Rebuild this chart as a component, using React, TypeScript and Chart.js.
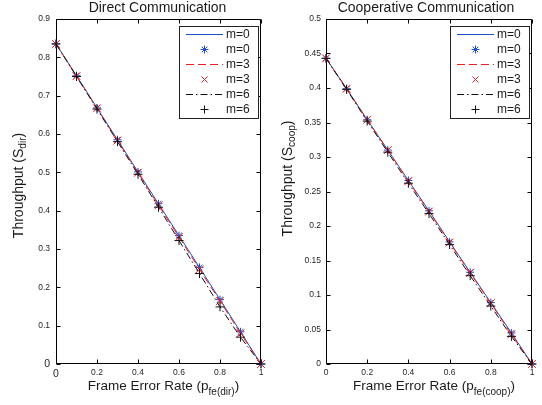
import React, { useEffect, useRef } from "react";
import { Chart, registerables } from "chart.js";

Chart.register(...registerables);

// ---------- data ----------
const frameErrorRate = [0, 0.1, 0.2, 0.3, 0.4, 0.5, 0.6, 0.7, 0.8, 0.9, 1];
const seriesLabels = ["m=0", "m=3", "m=6"];

const directM0 = [0.835, 0.752, 0.668, 0.585, 0.501, 0.418, 0.335, 0.252, 0.168, 0.084, 0];
const directM3 = [0.835, 0.751, 0.667, 0.583, 0.499, 0.414, 0.331, 0.247, 0.164, 0.080, 0];
const directM6 = [0.835, 0.750, 0.665, 0.580, 0.495, 0.409, 0.322, 0.236, 0.149, 0.070, 0];

const coopM0 = [0.443, 0.399, 0.354, 0.310, 0.266, 0.222, 0.177, 0.133, 0.089, 0.045, 0];
const coopM3 = [0.443, 0.399, 0.354, 0.310, 0.265, 0.221, 0.176, 0.132, 0.088, 0.043, 0];
const coopM6 = [0.443, 0.398, 0.352, 0.307, 0.262, 0.218, 0.173, 0.128, 0.084, 0.040, 0];

const xTickStep = 0.2;
const directYMax = 0.9;
const directYStep = 0.1;
const coopYMax = 0.5;
const coopYStep = 0.05;

const directTitle = "Direct Communication";
const coopTitle = "Cooperative Communication";

// ---------- styles ----------
const FONT = '"Liberation Sans", Arial, sans-serif';
const STYLES = [
  { color: "#1f4fc4", dash: [] as number[], point: "star", radius: 4 },
  { color: "#ee2020", dash: [8, 4], point: "crossRot", radius: 5.5 },
  { color: "#111111", dash: [7, 3, 1.5, 3], point: "cross", radius: 4.5 },
];

type PanelCfg = {
  title: string;
  sub: string;
  series: number[][];
  yMax: number;
  yStep: number;
  axLeft: number;
  axRight: number;
  yLabPad: number;
  bigZero: boolean;
  titleX: number;
  xTitleX: number;
  yTitleX: number;
  yTitleY: number;
};

const W = 271;
const H = 405;
const AX_TOP = 19;
const AX_BOTTOM = 364;

function drawRich(
  ctx: CanvasRenderingContext2D,
  parts: { t: string; sub?: boolean }[],
  x: number,
  y: number,
  mainSize: number,
  subSize: number,
  subShift: number
) {
  const widths: number[] = [];
  let total = 0;
  for (const p of parts) {
    ctx.font = `${p.sub ? subSize : mainSize}px ${FONT}`;
    const w = ctx.measureText(p.t).width;
    widths.push(w);
    total += w;
  }
  let cx = x - total / 2;
  ctx.textAlign = "left";
  ctx.textBaseline = "alphabetic";
  parts.forEach((p, i) => {
    ctx.font = `${p.sub ? subSize : mainSize}px ${FONT}`;
    ctx.fillText(p.t, cx, p.sub ? y + subShift : y);
    cx += widths[i];
  });
}

function drawMarker(ctx: CanvasRenderingContext2D, style: string, x: number, y: number, r: number) {
  ctx.beginPath();
  const d = r * Math.SQRT1_2;
  if (style === "cross" || style === "star") {
    ctx.moveTo(x - r, y);
    ctx.lineTo(x + r, y);
    ctx.moveTo(x, y - r);
    ctx.lineTo(x, y + r);
  }
  if (style === "crossRot" || style === "star") {
    ctx.moveTo(x - d, y - d);
    ctx.lineTo(x + d, y + d);
    ctx.moveTo(x - d, y + d);
    ctx.lineTo(x + d, y - d);
  }
  ctx.stroke();
}

function makeDecor(p: PanelCfg) {
  return {
    id: "decor",
    beforeDatasetsDraw(chart: any) {
      const { ctx, chartArea: a, scales } = chart;
      const xs = scales.x;
      const ys = scales.y;
      const L = Math.round(a.left) + 0.5;
      const R = Math.round(a.right) - 0.5;
      const T = Math.round(a.top) + 0.5;
      const B = Math.round(a.bottom) - 0.5;
      ctx.save();
      ctx.strokeStyle = "#000";
      ctx.lineWidth = 1;
      ctx.beginPath();
      ctx.rect(L, T, R - L, B - T);
      ctx.stroke();
      const tl = 4;
      ctx.beginPath();
      for (const t of xs.ticks) {
        const px = Math.round(xs.getPixelForValue(t.value)) + 0.5;
        ctx.moveTo(px, B);
        ctx.lineTo(px, B - tl);
        ctx.moveTo(px, T);
        ctx.lineTo(px, T + tl);
      }
      for (const t of ys.ticks) {
        const py = Math.round(ys.getPixelForValue(t.value)) + 0.5;
        ctx.moveTo(L, py);
        ctx.lineTo(L + tl, py);
        ctx.moveTo(R, py);
        ctx.lineTo(R - tl, py);
      }
      ctx.stroke();
      ctx.restore();
    },
    afterDraw(chart: any) {
      const ctx: CanvasRenderingContext2D = chart.ctx;
      ctx.save();
      ctx.fillStyle = "#1a1a1a";
      // title
      ctx.font = `14px ${FONT}`;
      ctx.textAlign = "center";
      ctx.textBaseline = "alphabetic";
      ctx.fillText(p.title, p.titleX, 12);
      // x title
      drawRich(
        ctx,
        [{ t: "Frame Error Rate (p" }, { t: `fe(${p.sub})`, sub: true }, { t: ")" }],
        p.xTitleX,
        390,
        13.5,
        10,
        5
      );
      // y title
      ctx.save();
      ctx.translate(p.yTitleX, p.yTitleY);
      ctx.rotate(-Math.PI / 2);
      drawRich(ctx, [{ t: "Throughput (S" }, { t: p.sub, sub: true }, { t: ")" }], 0, 0, 14, 10, 3);
      ctx.restore();

      // legend
      const bx = 179.5;
      const by = 26.5;
      const bw = 79;
      const bh = 92;
      ctx.fillStyle = "#fff";
      ctx.fillRect(bx, by, bw, bh);
      ctx.strokeStyle = "#222";
      ctx.lineWidth = 1;
      ctx.strokeRect(bx, by, bw, bh);
      const rows = [34.5, 49.5, 64.5, 79.5, 94.5, 109.5];
      for (let i = 0; i < 3; i++) {
        const s = STYLES[i];
        const yl = rows[i * 2];
        const ym = rows[i * 2 + 1];
        ctx.strokeStyle = s.color;
        ctx.lineWidth = 1;
        ctx.setLineDash(s.dash);
        ctx.beginPath();
        ctx.moveTo(186, yl);
        ctx.lineTo(223, yl);
        ctx.stroke();
        ctx.setLineDash([]);
        drawMarker(ctx, s.point, 204.5, ym, s.point === "crossRot" ? 4.2 : 4);
        ctx.fillStyle = "#1a1a1a";
        ctx.font = `12px ${FONT}`;
        ctx.textAlign = "left";
        ctx.textBaseline = "middle";
        ctx.fillText(seriesLabels[i], 226, yl + 0.5);
        ctx.fillText(seriesLabels[i], 226, ym + 0.5);
      }
      ctx.restore();
    },
  };
}

function fmt(v: number) {
  return String(Math.round(v * 1000) / 1000);
}

function Panel({ cfg, left }: { cfg: PanelCfg; left: number }) {
  const ref = useRef<HTMLCanvasElement>(null);
  useEffect(() => {
    const canvas = ref.current;
    if (!canvas) return;
    const datasets = cfg.series.map((vals, i) => {
      const s = STYLES[i];
      return {
        label: seriesLabels[i],
        data: vals.map((v, j) => ({ x: frameErrorRate[j], y: v })),
        borderColor: s.color,
        backgroundColor: s.color,
        borderWidth: 1,
        borderDash: s.dash,
        pointStyle: s.point,
        pointRadius: s.radius,
        pointBorderColor: s.color,
        pointBorderWidth: 1,
        pointBackgroundColor: s.color,
        tension: 0,
        fill: false,
        clip: false,
        order: 3 - i,
      };
    });
    const tickFont = (ctx: any) => ({
      family: FONT,
      size: cfg.bigZero && ctx.tick && ctx.tick.value === 0 ? 10.5 : 8.5,
    });
    const chart = new Chart(canvas, {
      type: "line",
      data: { datasets } as any,
      options: {
        responsive: false,
        animation: false,
        events: [],
        devicePixelRatio: 1,
        layout: { padding: { left: 0, right: W - cfg.axRight, top: AX_TOP, bottom: 0 } },
        plugins: {
          legend: { display: false },
          title: { display: false },
          tooltip: { enabled: false },
        },
        scales: {
          x: {
            type: "linear",
            min: 0,
            max: 1,
            afterFit: (s: any) => {
              s.height = H - AX_BOTTOM;
            },
            grid: { display: false, drawTicks: false },
            border: { display: false },
            ticks: {
              stepSize: xTickStep,
              padding: 4,
              color: "#262626",
              font: tickFont,
              maxRotation: 0,
              autoSkip: false,
              callback: (v: any) => fmt(Number(v)),
            },
          },
          y: {
            type: "linear",
            min: 0,
            max: cfg.yMax,
            afterFit: (s: any) => {
              s.width = cfg.axLeft;
            },
            grid: { display: false, drawTicks: false },
            border: { display: false },
            ticks: {
              stepSize: cfg.yStep,
              padding: cfg.yLabPad,
              color: "#262626",
              font: tickFont,
              autoSkip: false,
              callback: (v: any) => fmt(Number(v)),
            },
          },
        },
      } as any,
      plugins: [makeDecor(cfg)],
    });
    return () => chart.destroy();
  }, [cfg]);
  return (
    <canvas
      ref={ref}
      width={W}
      height={H}
      style={{ position: "absolute", left, top: 0, width: W, height: H }}
    />
  );
}

const directCfg: PanelCfg = {
  title: directTitle,
  sub: "dir",
  series: [directM0, directM3, directM6],
  yMax: directYMax,
  yStep: directYStep,
  axLeft: 56,
  axRight: 261,
  yLabPad: 6,
  bigZero: true,
  titleX: 157.5,
  xTitleX: 163.5,
  yTitleX: 23,
  yTitleY: 185.5,
};

const coopCfg: PanelCfg = {
  title: coopTitle,
  sub: "coop",
  series: [coopM0, coopM3, coopM6],
  yMax: coopYMax,
  yStep: coopYStep,
  axLeft: 55,
  axRight: 261,
  yLabPad: 5,
  bigZero: false,
  titleX: 155,
  xTitleX: 163,
  yTitleX: 21,
  yTitleY: 178.5,
};

export default function App() {
  return (
    <div
      style={{
        position: "fixed",
        left: 0,
        top: 0,
        width: 542,
        height: 405,
        background: "#fff",
        overflow: "hidden",
      }}
    >
      <Panel cfg={directCfg} left={0} />
      <Panel cfg={coopCfg} left={W} />
    </div>
  );
}
